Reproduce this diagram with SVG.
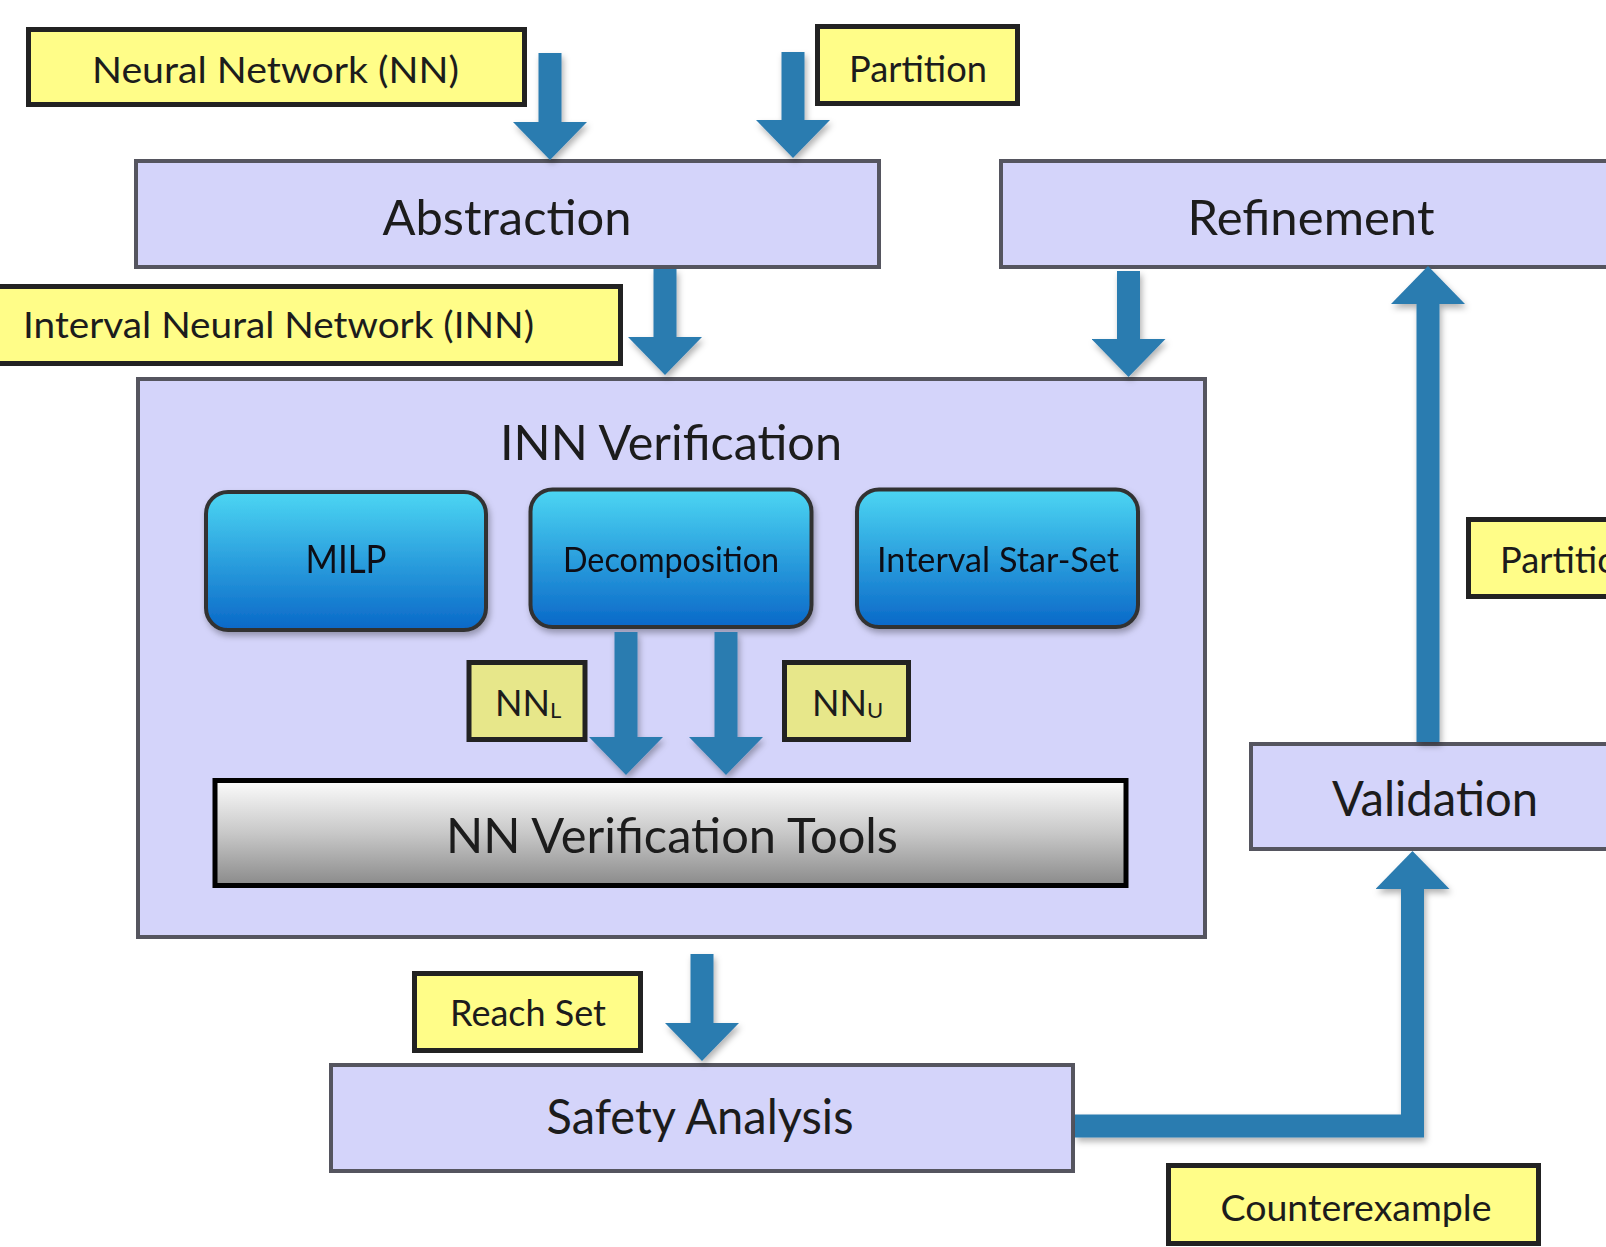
<svg xmlns="http://www.w3.org/2000/svg" width="1606" height="1247" viewBox="0 0 1606 1247">
<defs>
<style>
.lav{fill:#D4D4FA;stroke:#55555F;stroke-width:4}
.yel{fill:#FFFD88;stroke:#222;stroke-width:5}
.yel2{fill:#E7E78A;stroke:#222;stroke-width:5}
.blue{fill:url(#gBlue);stroke:#333;stroke-width:4}
.tool{fill:url(#gTool);stroke:#000;stroke-width:5}
text{font-family:Lato,"Open Sans","DejaVu Sans",sans-serif;fill:#1c1c1c}
.big{font-size:48px;text-anchor:middle}
.lbl{font-size:37px;text-anchor:middle}
.btx{font-size:34px;text-anchor:middle;fill:#0e0e14}
.arr{fill:none;stroke:#2C7BB0;stroke-width:23;stroke-linejoin:miter}
</style>
<linearGradient id="gBlue" x1="0" y1="0" x2="0" y2="1">
<stop offset="0" stop-color="#4CD6F3"/>
<stop offset="1" stop-color="#0A68C8"/>
</linearGradient>
<linearGradient id="gTool" x1="0" y1="0" x2="0" y2="1">
<stop offset="0" stop-color="#FCFCFC"/>
<stop offset="0.5" stop-color="#C8C8C8"/>
<stop offset="1" stop-color="#8A8A8A"/>
</linearGradient>
<marker id="head" viewBox="0 0 38 74" refX="1" refY="37" markerWidth="38" markerHeight="74" markerUnits="userSpaceOnUse" orient="auto">
<path d="M0,0 L38,37 L0,74 z" fill="#2C7BB0"/>
</marker>
<filter id="sh" x="-20%" y="-20%" width="140%" height="140%">
<feDropShadow dx="2" dy="4" stdDeviation="3" flood-color="#000" flood-opacity="0.3"/>
</filter>
</defs>

<g id="abstraction"><rect class="lav" x="136" y="161" width="743" height="106"/><text class="big" x="507" y="235" textLength="249" lengthAdjust="spacingAndGlyphs">Abstraction</text></g>
<g id="refinement"><rect class="lav" x="1001" y="161" width="700" height="106"/><text class="big" x="1311" y="235" textLength="247" lengthAdjust="spacingAndGlyphs">Refinement</text></g>
<g id="inn-verification"><rect class="lav" x="138" y="379" width="1067" height="558"/><text class="big" x="671" y="460" textLength="342" lengthAdjust="spacingAndGlyphs">INN Verification</text></g>
<g id="validation"><rect class="lav" x="1251" y="744" width="500" height="105"/><text class="big" x="1435" y="816" textLength="206" lengthAdjust="spacingAndGlyphs">Validation</text></g>
<g id="safety-analysis"><rect class="lav" x="331" y="1065" width="742" height="106"/><text class="big" x="700" y="1134" textLength="307" lengthAdjust="spacingAndGlyphs">Safety Analysis</text></g>

<g id="milp" filter="url(#sh)"><rect class="blue" x="206" y="492" width="280" height="138" rx="22"/><text class="btx" x="346" y="573" style="font-size:38px" textLength="81" lengthAdjust="spacingAndGlyphs">MILP</text></g>
<g id="decomposition" filter="url(#sh)"><rect class="blue" x="530.5" y="489.5" width="281" height="137.5" rx="22"/><text class="btx" x="671" y="572" textLength="216" lengthAdjust="spacingAndGlyphs">Decomposition</text></g>
<g id="interval-star-set" filter="url(#sh)"><rect class="blue" x="857" y="489.5" width="281" height="137.5" rx="22"/><text class="btx" x="998" y="572" textLength="242" lengthAdjust="spacingAndGlyphs">Interval Star-Set</text></g>

<g id="nn-tools"><rect class="tool" x="215" y="780.5" width="911" height="105"/><text class="big" x="672" y="853" textLength="452" lengthAdjust="spacingAndGlyphs">NN Verification Tools</text></g>

<g id="lbl-nn"><rect class="yel" x="28.5" y="29.5" width="496" height="75"/><text class="lbl" x="275.5" y="83" textLength="367" lengthAdjust="spacingAndGlyphs">Neural Network (NN)</text></g>
<g id="lbl-partition-top"><rect class="yel" x="817.5" y="26.5" width="200" height="77"/><text class="lbl" x="918" y="82" textLength="138" lengthAdjust="spacingAndGlyphs">Partition</text></g>
<g id="lbl-inn"><rect class="yel" x="-5" y="286.5" width="625.5" height="77"/><text class="lbl" x="278.5" y="338" textLength="511" lengthAdjust="spacingAndGlyphs">Interval Neural Network (INN)</text></g>
<g id="lbl-partition-right"><rect class="yel" x="1468.5" y="519.5" width="200" height="77"/><text class="lbl" x="1500" y="573" style="text-anchor:start" textLength="138" lengthAdjust="spacingAndGlyphs">Partition</text></g>
<g id="lbl-reach"><rect class="yel" x="414.5" y="973.5" width="226" height="77"/><text class="lbl" x="528" y="1026" textLength="156" lengthAdjust="spacingAndGlyphs">Reach Set</text></g>
<g id="lbl-counter"><rect class="yel" x="1168.5" y="1165.5" width="370" height="78"/><text class="lbl" x="1356" y="1221" textLength="271" lengthAdjust="spacingAndGlyphs">Counterexample</text></g>
<g id="lbl-nnl"><rect class="yel2" x="469" y="662.5" width="116" height="77"/><text x="495" y="716" style="font-size:36px">NN<tspan style="font-size:22px" dy="2">L</tspan></text></g>
<g id="lbl-nnu"><rect class="yel2" x="784.5" y="662.5" width="124" height="77"/><text x="812" y="716" style="font-size:36px">NN<tspan style="font-size:22px" dy="2">U</tspan></text></g>

<g id="connectors" filter="url(#sh)">
<path class="arr" d="M550,53 V123" marker-end="url(#head)"/>
<path class="arr" d="M793,52 V121" marker-end="url(#head)"/>
<path class="arr" d="M665,269 V338" marker-end="url(#head)"/>
<path class="arr" d="M1128.5,271 V340" marker-end="url(#head)"/>
<path class="arr" d="M1428,742 V303" marker-end="url(#head)"/>
<path class="arr" d="M626,632 V738" marker-end="url(#head)"/>
<path class="arr" d="M726,632 V738" marker-end="url(#head)"/>
<path class="arr" d="M702,954 V1024" marker-end="url(#head)"/>
<path class="arr" d="M1075,1126 H1412.5 V888" marker-end="url(#head)"/>
</g>
</svg>
